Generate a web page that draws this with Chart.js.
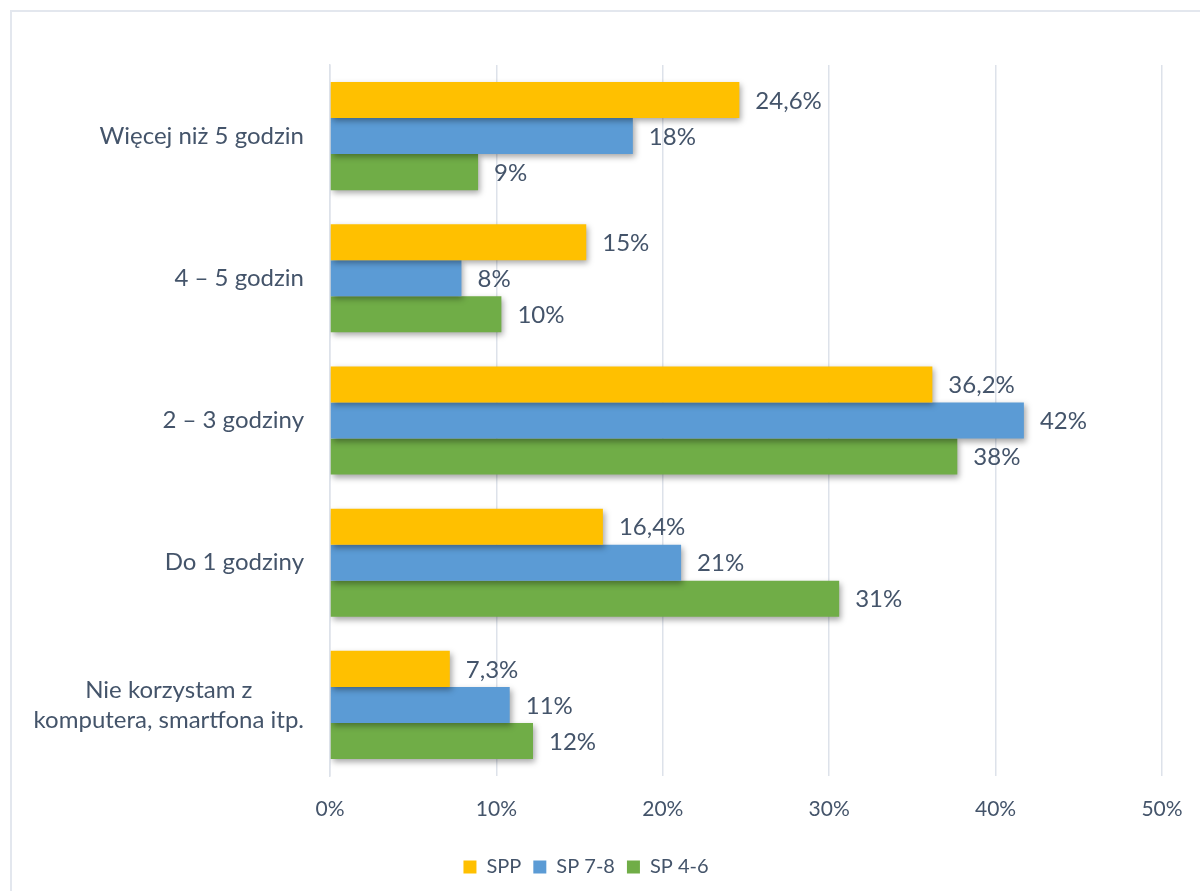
<!DOCTYPE html>
<html>
<head>
<meta charset="utf-8">
<script src="https://cdn.jsdelivr.net/npm/chart.js@4.4.0/dist/chart.umd.min.js"></script>
<style>
  html, body { margin: 0; padding: 0; background: #fff; overflow: hidden; }
  #frame { position: absolute; left: 10px; top: 10px; width: 1300px; height: 1000px; border-left: 2px solid #e3e7ee; border-top: 2px solid #e3e7ee; }
  #wrap { position: absolute; left: 0; top: 0; width: 1200px; height: 891px; }
</style>
</head>
<body>
<div id="frame"></div>
<div id="wrap"><canvas id="c" width="1200" height="891"></canvas></div>
<script>
// kategorie (od góry)
const kategorie = [
  'Więcej niż 5 godzin',
  '4 – 5 godzin',
  '2 – 3 godziny',
  'Do 1 godziny',
  ['Nie korzystam z', 'komputera, smartfona itp.'],
];
const serie = ['SPP', 'SP 7-8', 'SP 4-6'];

// długości słupków i etykiety danych
const spp = [24.6, 15.4, 36.2, 16.4, 7.2];
const sp78 = [18.2, 7.9, 41.7, 21.1, 10.8];
const sp46 = [8.9, 10.3, 37.7, 30.6, 12.2];
const sppTxt = ['24,6%', '15%', '36,2%', '16,4%', '7,3%'];
const sp78Txt = ['18%', '8%', '42%', '21%', '11%'];
const sp46Txt = ['9%', '10%', '38%', '31%', '12%'];
const xTicks = [0, 10, 20, 30, 40, 50];

const COR = { yellow: '#FFC000', blue: '#5B9BD5', green: '#70AD47', text: '#44546A', grid: '#dde2ea' };
const FONT = 'Lato, "Open Sans", sans-serif';

const shadowPlugin = {
  id: 'shadow',
  beforeDatasetsDraw(chart) {
    const ctx = chart.ctx;
    ctx.save();
    ctx.shadowColor = 'rgba(0,0,0,0.35)';
    ctx.shadowBlur = 6;
    ctx.shadowOffsetX = 2;
    ctx.shadowOffsetY = 3;
  },
  afterDatasetsDraw(chart) {
    chart.ctx.restore();
  },
};

// etykiety danych + etykiety kategorii (wyśrodkowane wiersze)
const labelsPlugin = {
  id: 'labels',
  afterDatasetsDraw(chart) {
    const ctx = chart.ctx;
    const txt = [sppTxt, sp78Txt, sp46Txt];
    ctx.save();
    ctx.fillStyle = COR.text;
    ctx.font = `24px ${FONT}`;
    ctx.textBaseline = 'middle';
    ctx.textAlign = 'left';
    chart.data.datasets.forEach((ds, di) => {
      chart.getDatasetMeta(di).data.forEach((bar, i) => {
        ctx.fillText(txt[di][i], bar.x + 16, bar.y + 1);
      });
    });
    // kategorie
    const y = chart.scales.y;
    const right = y.right - 26;
    ctx.textAlign = 'center';
    kategorie.forEach((k, i) => {
      const lines = Array.isArray(k) ? k : [k];
      const w = Math.max(...lines.map(l => ctx.measureText(l).width));
      const cx = right - w / 2;
      const cy = y.getPixelForValue(i);
      const lh = 30;
      lines.forEach((l, j) => {
        ctx.fillText(l, cx, cy + (j - (lines.length - 1) / 2) * lh);
      });
    });
    ctx.restore();
  },
};

new Chart(document.getElementById('c'), {
  type: 'bar',
  data: {
    labels: kategorie,
    datasets: [
      { label: serie[0], data: spp, backgroundColor: COR.yellow },
      { label: serie[1], data: sp78, backgroundColor: COR.blue },
      { label: serie[2], data: sp46, backgroundColor: COR.green },
    ],
  },
  options: {
    indexAxis: 'y',
    responsive: false,
    animation: false,
    categoryPercentage: 0.76,
    barPercentage: 1,
    layout: { padding: { left: 10, right: 38, top: 65, bottom: 4 } },
    scales: {
      x: {
        min: 0, max: 50,
        afterBuildTicks: (s) => { s.ticks = xTicks.map(v => ({ value: v })); },
        grid: { color: COR.grid, lineWidth: 1.5, drawTicks: false },
        border: { display: false },
        ticks: { color: COR.text, font: { family: FONT, size: 21 }, padding: 21, callback: (v) => v + '%' },
        afterFit: (s) => { s.height = 69; s.paddingLeft = 0; s.paddingRight = 0; },
      },
      y: {
        grid: { display: false },
        border: { color: COR.grid, width: 1.5 },
        ticks: { display: false },
        afterFit: (s) => { s.width = 320; },
      },
    },
    plugins: {
      legend: {
        position: 'bottom',
        labels: {
          color: COR.text,
          font: { family: FONT, size: 20 },
          boxWidth: 13, boxHeight: 13,
          padding: 12,
        },
      },
      tooltip: { enabled: false },
    },
  },
  plugins: [shadowPlugin, labelsPlugin],
});
</script>
</body>
</html>
